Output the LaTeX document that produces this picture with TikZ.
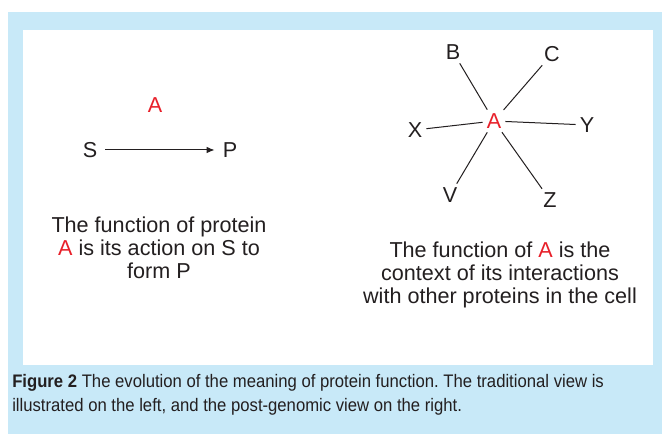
\documentclass[tikz,border=0pt]{standalone}
\usepackage{fontspec}
\usetikzlibrary{arrows.meta}
\setmainfont{Liberation Sans}
\newfontfamily\capfont[FakeStretch=0.92]{Liberation Sans}
\frenchspacing
\definecolor{panelBlue}{HTML}{C8E9F8}
\definecolor{protRed}{HTML}{E8202A}
\definecolor{inkGray}{HTML}{231F20}
\tikzset{
    LABEL/.style={inner sep=1pt, font={\fontsize{16.2}{18}\selectfont}, text=inkGray},
    RED_LABEL/.style={LABEL, text=protRed},
    NOTE/.style={LABEL, align=center, font={\fontsize{16.2}{17.4}\selectfont}},
    CAPTION/.style={anchor=base west, inner sep=0pt, text=inkGray,
        font={\capfont\fontsize{13.6}{18}\selectfont}},
    EDGE/.style={draw=inkGray, line width=0.75pt, shorten <=2pt, shorten >=2pt},
    ARROW_EDGE/.style={EDGE, -{Latex[length=6pt, width=5pt]}, shorten <=5pt, shorten >=5pt}
}
\begin{document}
\begin{tikzpicture}[x=0.75pt, y=-0.75pt]
    \useasboundingbox (0,0) rectangle (662,434);
    \fill[panelBlue] (8,12) rectangle (662,434);
    \fill[white] (23,30) rectangle (653,365);
    % traditional view
    \node [RED_LABEL] (a1) at (155,105) {A};
    \node [LABEL] (s) at (90,150) {S};
    \node [LABEL] (p) at (230,150) {P};
    \node [NOTE] (n1) at (159,248) {The function of protein\\
        \textcolor{protRed}{A} is its action on S to\\ form P};
    \draw[ARROW_EDGE] (s) to (p);
    % post-genomic view
    \node [RED_LABEL] (a2) at (494,121) {A};
    \node [LABEL] (b) at (453,52) {B};
    \node [LABEL] (c) at (552,54) {C};
    \node [LABEL] (x) at (415,130) {X};
    \node [LABEL] (y) at (587,125) {Y};
    \node [LABEL] (v) at (450,195) {V};
    \node [LABEL] (z) at (550,200) {Z};
    \node [NOTE] (n2) at (500,275) {The function of \textcolor{protRed}{A} is the\\
        context of its interactions\\ with other proteins in the cell};
    \foreach \n in {b,c,x,y,v,z}
        \draw[EDGE] (a2) to (\n);
    % caption
    \node [CAPTION] (cap1) at (12,388)
        {\textbf{Figure 2} The evolution of the meaning of protein function. The traditional view is};
    \node [CAPTION] (cap2) at (12,412)
        {illustrated on the left, and the post-genomic view on the right.};
\end{tikzpicture}
\end{document}
